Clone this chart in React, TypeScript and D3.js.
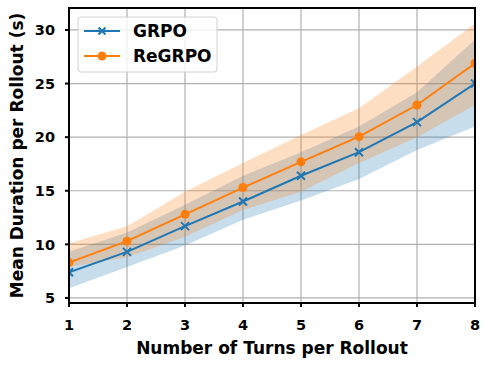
import React from "react";
import * as d3 from "d3";

const turns = [1, 2, 3, 4, 5, 6, 7, 8];
const grpoMean = [7.4, 9.3, 11.7, 14.0, 16.4, 18.6, 21.4, 25.0];
const grpoLow = [5.9, 7.9, 9.9, 12.3, 14.1, 16.1, 18.8, 21.0];
const grpoHigh = [9.3, 11.1, 13.7, 16.4, 18.6, 21.0, 24.2, 29.1];
const regrpoMean = [8.3, 10.3, 12.8, 15.3, 17.7, 20.05, 23.0, 26.9];
const regrpoLow = [7.9, 8.8, 10.7, 13.2, 14.9, 17.6, 20.0, 23.0];
const regrpoHigh = [10.1, 11.7, 14.9, 17.6, 20.2, 22.7, 26.6, 30.6];
const yTicks = [5, 10, 15, 20, 25, 30];
const seriesNames = ["GRPO", "ReGRPO"];

const W = 489, H = 367;
const L = 69, R = 475, T = 8, B = 303;
const BLUE = "#1f77b4", ORANGE = "#ff7f0e";
const FONT = "DejaVu Sans";

export default function App() {
  const x = d3.scaleLinear().domain([1, 8]).range([L, R]);
  const y = d3.scaleLinear().domain([4.53, 32.05]).range([B, T]);
  const line = d3.line<number>().x((_, i) => x(turns[i])).y((d) => y(d));
  const area = (lo: number[], hi: number[]) =>
    d3.area<number>().x((_, i) => x(turns[i])).y0((_, i) => y(lo[i])).y1((_, i) => y(hi[i]))(turns) as string;

  return (
    <div style={{ position: "absolute", left: 0, top: 0 }}>
      <svg width={W} height={H} style={{ display: "block", background: "#fff" }} fontFamily={FONT} fontWeight="bold">
        <defs>
          <clipPath id="clip"><rect x={L} y={T} width={R - L} height={B - T} /></clipPath>
        </defs>
        {turns.map((t) => (
          <line key={"gx" + t} x1={x(t)} x2={x(t)} y1={T} y2={B} stroke="#b0b0b0" strokeWidth={1.2} />
        ))}
        {yTicks.map((v) => (
          <line key={"gy" + v} x1={L} x2={R} y1={y(v)} y2={y(v)} stroke="#b0b0b0" strokeWidth={1.2} />
        ))}
        <g clipPath="url(#clip)">
          <path d={area(grpoLow, grpoHigh)} fill={BLUE} fillOpacity={0.25} />
          <path d={area(regrpoLow, regrpoHigh)} fill={ORANGE} fillOpacity={0.25} />
          <path d={line(grpoMean) as string} fill="none" stroke={BLUE} strokeWidth={2} />
          <path d={line(regrpoMean) as string} fill="none" stroke={ORANGE} strokeWidth={2} />
          {grpoMean.map((v, i) => {
            const cx = x(turns[i]), cy = y(v), s = 4;
            return (
              <path key={"gm" + i} d={`M${cx - s},${cy - s}L${cx + s},${cy + s}M${cx - s},${cy + s}L${cx + s},${cy - s}`} stroke={BLUE} strokeWidth={2} />
            );
          })}
          {regrpoMean.map((v, i) => (
            <circle key={"rm" + i} cx={x(turns[i])} cy={y(v)} r={4.5} fill={ORANGE} />
          ))}
        </g>
        <rect x={L} y={T} width={R - L} height={B - T} fill="none" stroke="#000" strokeWidth={2} />
        {turns.map((t) => (
          <g key={"tx" + t}>
            <line x1={x(t)} x2={x(t)} y1={B} y2={B + 4} stroke="#000" strokeWidth={2} />
            <text x={x(t)} y={329.5} textAnchor="middle" fontSize={14.5}>{t}</text>
          </g>
        ))}
        {yTicks.map((v) => (
          <g key={"ty" + v}>
            <line x1={L - 4} x2={L} y1={y(v)} y2={y(v)} stroke="#000" strokeWidth={2} />
            <text x={55} y={y(v)} dy="0.36em" textAnchor="end" fontSize={14.5}>{v}</text>
          </g>
        ))}
        <text x={(L + R) / 2} y={354} textAnchor="middle" fontSize={17}>Number of Turns per Rollout</text>
        <text transform={`translate(22.5,${(T + B) / 2}) rotate(-90)`} textAnchor="middle" fontSize={17}>Mean Duration per Rollout (s)</text>
        <rect x={78} y={17} width={139} height={55} rx={3} fill="#fff" fillOpacity={0.8} stroke="#d0d0d0" strokeWidth={1} />
        {seriesNames.map((n, i) => {
          const ly = 31 + i * 25;
          return (
            <g key={n}>
              <line x1={84} x2={120} y1={ly} y2={ly} stroke={i === 0 ? BLUE : ORANGE} strokeWidth={2} />
              {i === 0 ? (
                <path d={`M${102 - 3.5},${ly - 3.5}L${102 + 3.5},${ly + 3.5}M${102 - 3.5},${ly + 3.5}L${102 + 3.5},${ly - 3.5}`} stroke={BLUE} strokeWidth={2} />
              ) : (
                <circle cx={102} cy={ly} r={4.5} fill={ORANGE} />
              )}
              <text x={133} y={ly} dy="0.36em" fontSize={17}>{n}</text>
            </g>
          );
        })}
      </svg>
    </div>
  );
}
